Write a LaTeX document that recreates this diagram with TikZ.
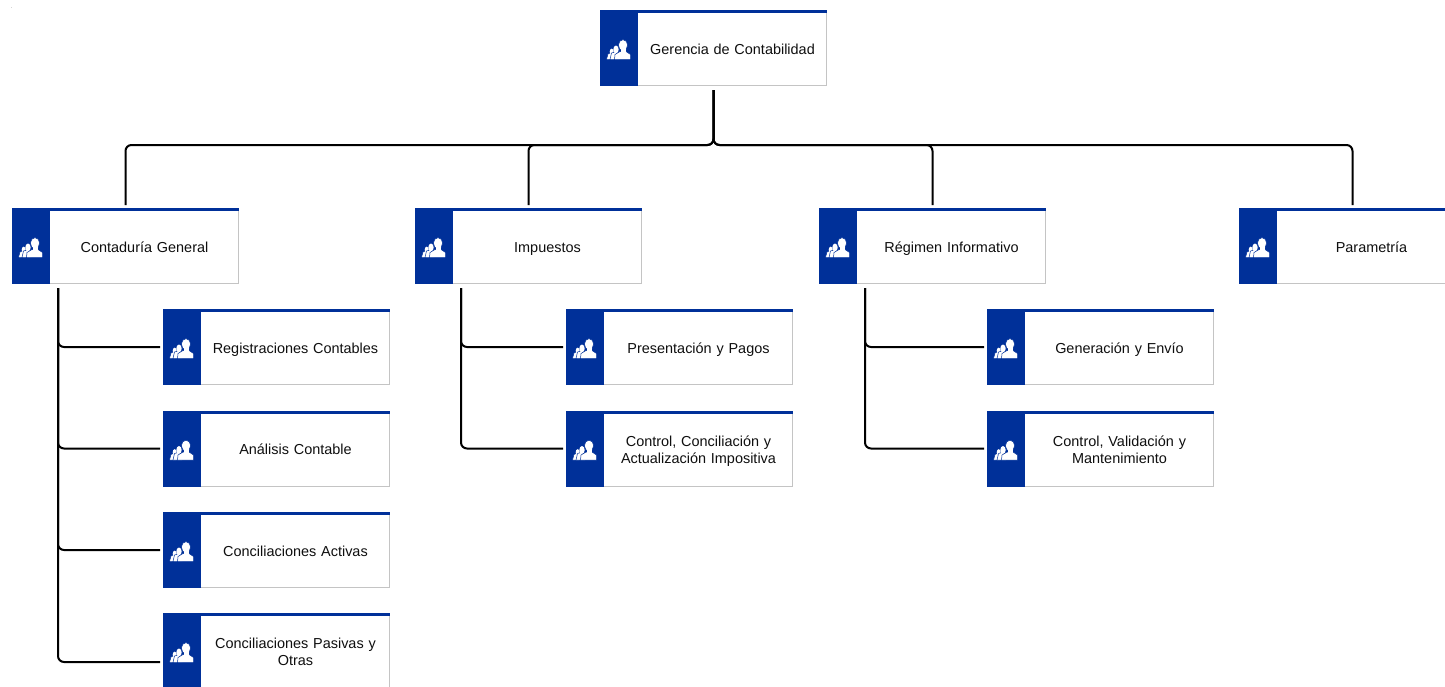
\documentclass[tikz,border=0pt]{standalone}
\usepackage{fontspec}
\setmainfont{Liberation Sans}
\definecolor{orgblue}{RGB}{0,48,153}
\definecolor{orggray}{RGB}{196,196,196}
\definecolor{orgtext}{RGB}{15,15,15}
\tikzstyle{cbox}=[rectangle, draw=orggray, line width=1pt, fill=white, anchor=north west, minimum width=226pt, minimum height=75pt, inner sep=0pt]
\tikzstyle{cside}=[rectangle, fill=orgblue, anchor=north west, minimum width=38pt, minimum height=76pt, inner sep=0pt]
\tikzstyle{ctop}=[rectangle, fill=orgblue, anchor=north west, minimum width=226.5pt, minimum height=3pt, inner sep=0pt]
\tikzstyle{ctext}=[text width=185pt, align=center, text=orgtext, font=\fontsize{14.45}{17}\selectfont, inner sep=0pt, execute at begin node=\strut, execute at end node=\strut]
\tikzstyle{cicon}=[fill=white, draw=orgblue, line width=0.5pt]
\tikzstyle{chead}=[fill=white]
\tikzstyle{conn}=[line width=2pt, black, rounded corners=6pt, shorten <=4pt, shorten >=3pt]
% one unit box: name, left, top, text
\newcommand{\orgbox}[4]{
\node[cbox] (#1) at (#2,#3) {};
\node[cside] (#1s) at (#2,#3) {};
\node[ctop] (#1l) at (#2,#3) {};
\node[ctext] (#1t) at (#2+132.5,#3+41) {#4};
\begin{scope}[shift={(#2,#3)}]
\path[cicon] (6.5,49.5) -- (8,44) -- (10,43) -- (13,45) -- (13,49.5) -- cycle;
\path[chead] (11.7,41.7) ellipse (2pt and 3pt);
\path[cicon] (10,49.5) -- (11.5,43) -- (15,42) -- (19,44) -- (19,49.5) -- cycle;
\path[chead] (16,39.5) ellipse (2.7pt and 4pt);
\path[cicon] (23,35.2) ellipse (4.6pt and 5.6pt);
\path[cicon] (14.5,49.5) -- (15,44.5) -- (20,41.5) -- (26,41.5) -- (30.5,44.5) -- (30.5,49.5) -- cycle;
\path[chead] (20.5,37) rectangle (25.5,42.5);
\end{scope}
}

\begin{document}
\begin{tikzpicture}[x=1pt, y=-1pt]

\path[use as bounding box, clip] (0,0) rectangle (1445,686);

\node[font=\fontsize{4}{4}\selectfont, inner sep=0pt] (dot) at (12,8.5) {.};

\orgbox{ger}{600}{10}{Gerencia de Contabilidad}

\orgbox{cont}{12}{208}{Contaduría General}
\orgbox{imp}{415}{208}{Impuestos}
\orgbox{reg}{819}{208}{Régimen Informativo}
\orgbox{par}{1239}{208}{Parametría}

\orgbox{rc}{163}{309}{Registraciones Contables}
\orgbox{ac}{163}{410.5}{Análisis Contable}
\orgbox{ca}{163}{512}{Conciliaciones Activas}
\orgbox{cp}{163}{613}{Conciliaciones Pasivas y\\Otras}

\orgbox{pp}{566}{309}{Presentación y Pagos}
\orgbox{cc}{566}{410.5}{Control, Conciliación y\\Actualización Impositiva}

\orgbox{ge}{987}{309}{Generación y Envío}
\orgbox{cv}{987}{410.5}{Control, Validación y\\Mantenimiento}

\coordinate (bus) at (713,145);
\coordinate (conts) at (58,284);
\coordinate (imps) at (461,284);
\coordinate (regs) at (865,284);

\draw[conn] (ger.south) -- (ger.south |- bus) -| (cont.north);
\draw[conn] (ger.south) -- (ger.south |- bus) -| (imp.north);
\draw[conn] (ger.south) -- (ger.south |- bus) -| (reg.north);
\draw[conn] (ger.south) -- (ger.south |- bus) -| (par.north);

\draw[conn] (conts) |- (rc.west);
\draw[conn] (conts) |- (ac.west);
\draw[conn] (conts) |- (ca.west);
\draw[conn] (conts) |- ([yshift=-11pt]cp.west);

\draw[conn] (imps) |- (pp.west);
\draw[conn] (imps) |- (cc.west);

\draw[conn] (regs) |- (ge.west);
\draw[conn] (regs) |- (cv.west);

\end{tikzpicture}
\end{document}
